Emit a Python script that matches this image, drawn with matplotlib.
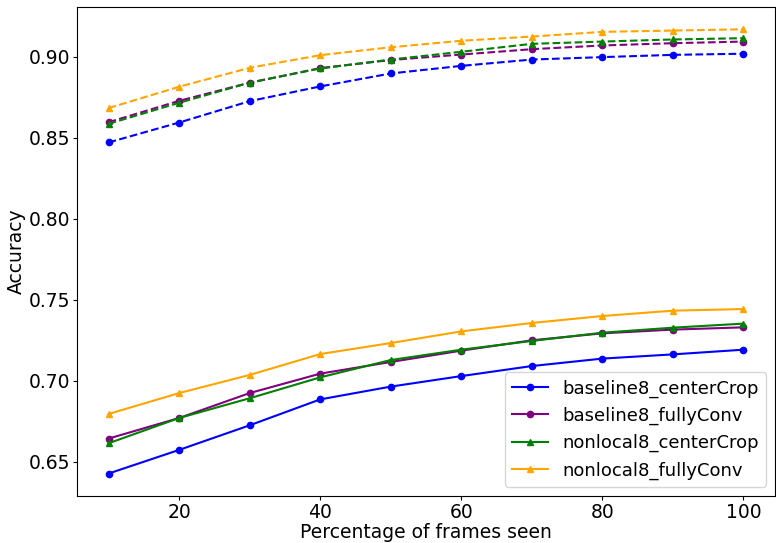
import matplotlib
matplotlib.use('Agg')
import matplotlib.pyplot as plt

frames = [10, 20, 30, 40, 50, 60, 70, 80, 90, 100]

# dashed curves (upper group)
baseline_center_top = [0.8471, 0.8594, 0.8726, 0.8817, 0.8897, 0.8944, 0.8983, 0.8998, 0.9012, 0.9019]
baseline_fully_top = [0.8596, 0.8728, 0.8840, 0.8930, 0.8980, 0.9014, 0.9047, 0.9070, 0.9084, 0.9094]
nonlocal_center_top = [0.8586, 0.8716, 0.8840, 0.8928, 0.8983, 0.9031, 0.9080, 0.9094, 0.9107, 0.9115]
nonlocal_fully_top = [0.8683, 0.8815, 0.8932, 0.9010, 0.9059, 0.9099, 0.9125, 0.9154, 0.9162, 0.9170]

# solid curves (lower group)
baseline_center = [0.6426, 0.6572, 0.6724, 0.6884, 0.6963, 0.7028, 0.7090, 0.7136, 0.7162, 0.7191]
baseline_fully = [0.6642, 0.6769, 0.6923, 0.7043, 0.7115, 0.7185, 0.7249, 0.7292, 0.7315, 0.7329]
nonlocal_center = [0.6613, 0.6769, 0.6891, 0.7020, 0.7127, 0.7191, 0.7245, 0.7296, 0.7327, 0.7352]
nonlocal_fully = [0.6794, 0.6923, 0.7035, 0.7164, 0.7232, 0.7304, 0.7356, 0.7399, 0.7432, 0.7442]

labels = ['baseline8_centerCrop', 'baseline8_fullyConv', 'nonlocal8_centerCrop', 'nonlocal8_fullyConv']
colors = ['blue', 'purple', 'green', 'orange']
markers = ['o', 'o', '^', '^']

fig = plt.figure(figsize=(7.76, 5.43), dpi=100)
ax = fig.add_axes([0.099, 0.087, 0.9, 0.9])

for ys, c, m in zip([baseline_center_top, baseline_fully_top, nonlocal_center_top, nonlocal_fully_top], colors, markers):
    ax.plot(frames, ys, '--', color=c, marker=m, markersize=4.5, linewidth=1.5)

for ys, c, m, lab in zip([baseline_center, baseline_fully, nonlocal_center, nonlocal_fully], colors, markers, labels):
    ax.plot(frames, ys, '-', color=c, marker=m, markersize=4.5, linewidth=1.5, label=lab)

ax.set_xlabel('Percentage of frames seen', fontsize=13.5, labelpad=1)
ax.set_ylabel('Accuracy', fontsize=13.5, labelpad=2)
ax.tick_params(labelsize=13.5, length=3, pad=2)
ax.legend(loc='lower right', fontsize=13)

fig.savefig('out.png', dpi=100)
